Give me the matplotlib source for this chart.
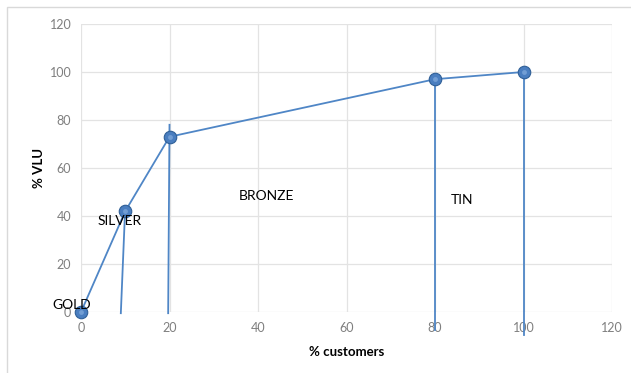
import matplotlib
matplotlib.use("Agg")
import matplotlib.pyplot as plt
from matplotlib.patches import Rectangle

plt.rcParams['font.family'] = ['Lato', 'DejaVu Sans']

# Cumulative share of customers vs cumulative share of VLU
customers_pct = [0, 10, 20, 80, 100]
vlu_pct = [0, 42, 73, 97, 100]

# Tier dividers (x at bottom, x at top, y at bottom, y at top)
divider_x_bottom = [9.0, 19.7, 80.0, 100.0]
divider_x_top = [10.0, 20.0, 80.0, 100.0]
divider_y_bottom = [-0.5, -0.5, -7.5, -9.5]
divider_y_top = [44, 78, 97, 100]

# Tier names and where they sit
tier_names = ["GOLD", "SILVER", "BRONZE", "TIN"]
tier_x = [-2.0, 8.8, 41.8, 86.1]
tier_y = [2.9, 37.9, 48.3, 46.7]

ticks = [0, 20, 40, 60, 80, 100, 120]

fig = plt.figure(figsize=(6.31, 3.73), dpi=100)
fig.patch.set_facecolor("white")
fig.patches.append(Rectangle((7 / 631, -0.1), 1.2, 1 - 7 / 373 + 0.1,
                             transform=fig.transFigure, fill=False,
                             edgecolor="#D9D9D9", linewidth=1.0))

ax = fig.add_axes([81 / 631, 1 - 312 / 373, (612 - 81) / 631, (312 - 24) / 373])
ax.set_xlim(0, 120)
ax.set_ylim(0, 120)
ax.set_xticks(ticks)
ax.set_yticks(ticks)
ax.grid(True, color="#E3E3E3", linewidth=0.9)
ax.set_axisbelow(True)
for s in ax.spines.values():
    s.set_visible(False)
ax.tick_params(length=0, labelsize=9, labelcolor="#7F7F7F", pad=7)

line_color = "#4F86C6"
for xb, xt, yb, yt in zip(divider_x_bottom, divider_x_top, divider_y_bottom, divider_y_top):
    ax.plot([xb, xt], [yb, yt], color=line_color, linewidth=1.3, clip_on=False, zorder=3)

ax.plot(customers_pct, vlu_pct, color=line_color, linewidth=1.3, zorder=4, clip_on=False)
ax.plot(customers_pct, vlu_pct, linestyle="none", marker="o", markersize=9,
        markerfacecolor="#4A7EC0", markeredgecolor="#2F5F97", markeredgewidth=0.8,
        zorder=5, clip_on=False)
ax.plot(customers_pct, vlu_pct, linestyle="none", marker="o", markersize=3.5,
        markerfacecolor="#8DB4E2", markeredgewidth=0, alpha=0.6,
        zorder=6, clip_on=False)

for name, tx, ty in zip(tier_names, tier_x, tier_y):
    ax.text(tx, ty, name, ha="center", va="center", fontsize=10, color="black",
            zorder=7, clip_on=False)

ax.set_xlabel("% customers", fontsize=9.5, fontweight="bold", labelpad=9)
ax.set_ylabel("% VLU", fontsize=9.5, fontweight="bold", labelpad=3)

fig.savefig("out.png", dpi=100)
